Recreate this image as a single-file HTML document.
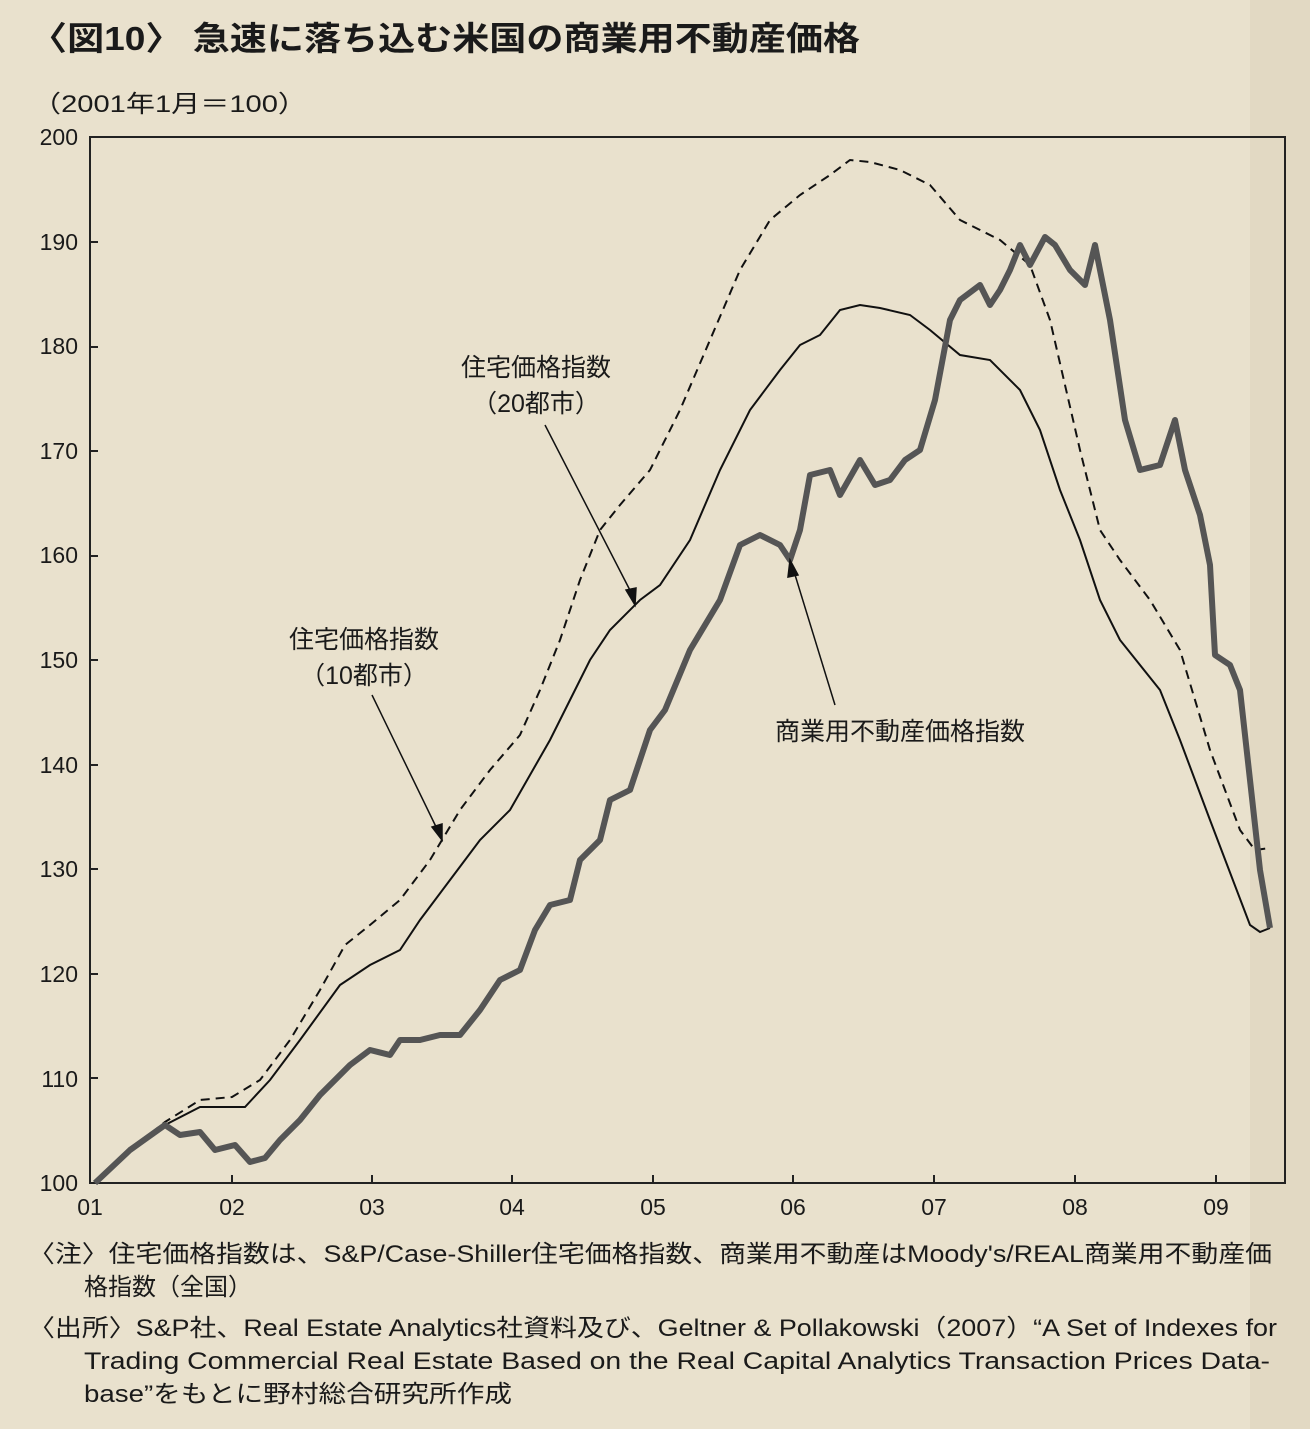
<!DOCTYPE html>
<html><head><meta charset="utf-8"><style>
body{margin:0;background:#e9e1cd;}
svg{display:block}
text{font-family:"Liberation Sans","Noto Sans CJK JP",sans-serif;fill:#1a1a1a}
</style></head><body>
<svg width="1310" height="1429" viewBox="0 0 1310 1429">
<rect width="1310" height="1429" fill="#e9e1cd"/>
<rect x="1250" y="0" width="60" height="1429" fill="#ddd3bd" opacity="0.6"/>
<text x="30" y="50" font-size="33" font-weight="bold" textLength="830" lengthAdjust="spacingAndGlyphs">〈図10〉 急速に落ち込む米国の商業用不動産価格</text>
<text x="32" y="112" font-size="24" textLength="275" lengthAdjust="spacingAndGlyphs">（2001年1月＝100）</text>
<rect x="90" y="137" width="1195" height="1046" fill="none" stroke="#222" stroke-width="2"/>
<g font-size="23" text-anchor="end">
<text x="78" y="145">200</text><text x="78" y="250">190</text><text x="78" y="354">180</text>
<text x="78" y="459">170</text><text x="78" y="563">160</text><text x="78" y="668">150</text>
<text x="78" y="773">140</text><text x="78" y="877">130</text><text x="78" y="982">120</text>
<text x="78" y="1087">110</text><text x="78" y="1191">100</text>
</g>
<g stroke="#222" stroke-width="2">
<line x1="90" y1="242" x2="98" y2="242"/><line x1="90" y1="347" x2="98" y2="347"/><line x1="90" y1="451" x2="98" y2="451"/><line x1="90" y1="556" x2="98" y2="556"/><line x1="90" y1="660" x2="98" y2="660"/><line x1="90" y1="765" x2="98" y2="765"/><line x1="90" y1="869" x2="98" y2="869"/><line x1="90" y1="974" x2="98" y2="974"/><line x1="90" y1="1078" x2="98" y2="1078"/>
<line x1="232" y1="1183" x2="232" y2="1175"/><line x1="372" y1="1183" x2="372" y2="1175"/><line x1="512" y1="1183" x2="512" y2="1175"/><line x1="653" y1="1183" x2="653" y2="1175"/><line x1="793" y1="1183" x2="793" y2="1175"/><line x1="934" y1="1183" x2="934" y2="1175"/><line x1="1075" y1="1183" x2="1075" y2="1175"/><line x1="1216" y1="1183" x2="1216" y2="1175"/>
</g>
<g font-size="23" text-anchor="middle">
<text x="90" y="1215">01</text><text x="232" y="1215">02</text><text x="372" y="1215">03</text><text x="512" y="1215">04</text><text x="653" y="1215">05</text><text x="793" y="1215">06</text><text x="934" y="1215">07</text><text x="1075" y="1215">08</text><text x="1216" y="1215">09</text>
</g>
<polyline fill="none" stroke="#111" stroke-width="2" stroke-dasharray="9,6" points="95,1183 130,1150 165,1122 200,1100 232,1097 260,1080 290,1040 320,990 345,945 370,925 400,900 430,860 460,810 490,770 520,735 540,690 560,640 580,580 600,530 620,505 650,470 680,410 710,340 740,270 770,220 800,195 830,175 850,160 870,162 900,170 930,185 960,220 1000,240 1030,265 1050,320 1080,450 1100,530 1120,560 1150,600 1180,650 1210,750 1240,830 1255,850 1270,848"/>
<polyline fill="none" stroke="#111" stroke-width="2" points="95,1183 130,1150 165,1125 200,1107 245,1107 270,1080 300,1040 340,985 370,965 400,950 420,920 450,880 480,840 510,810 530,775 550,740 570,700 590,660 610,630 640,600 660,585 690,540 720,470 750,410 780,370 800,345 820,335 840,310 860,305 880,308 910,315 930,330 960,355 990,360 1020,390 1040,430 1060,490 1080,540 1100,600 1120,640 1160,690 1180,740 1210,820 1250,925 1260,932 1270,928"/>
<polyline fill="none" stroke="#555" stroke-width="6" stroke-linejoin="round" points="95,1183 130,1150 165,1125 180,1135 200,1132 215,1150 235,1145 250,1162 265,1158 280,1140 300,1120 320,1095 350,1065 370,1050 390,1055 400,1040 420,1040 440,1035 460,1035 480,1010 500,980 520,970 535,930 550,905 570,900 580,860 600,840 610,800 630,790 650,730 665,710 690,650 720,600 740,545 760,535 780,545 790,560 800,530 810,475 830,470 840,495 860,460 875,485 890,480 905,460 920,450 935,400 950,320 960,300 980,285 990,305 1000,290 1010,270 1020,245 1030,265 1045,237 1055,245 1070,270 1085,285 1095,245 1110,320 1125,420 1140,470 1160,465 1175,420 1185,470 1200,515 1210,565 1215,655 1230,665 1240,690 1250,780 1260,870 1270,928"/>
<g font-size="25" text-anchor="middle">
<text x="536" y="376">住宅価格指数</text><text x="536" y="412">（20都市）</text>
<text x="364" y="648">住宅価格指数</text><text x="364" y="684">（10都市）</text>
<text x="900" y="740">商業用不動産価格指数</text>
</g>
<g stroke="#111" stroke-width="1.5" fill="#111">
<line x1="545" y1="425" x2="635" y2="600"/><polygon points="635,605 626,590 636,588"/>
<line x1="372" y1="695" x2="440" y2="835"/><polygon points="442,840 432,827 442,824"/>
<line x1="835" y1="705" x2="792" y2="565"/><polygon points="790,560 798,575 788,577"/>
</g>
<g font-size="24">
<text x="28" y="1262" textLength="1244" lengthAdjust="spacingAndGlyphs">〈注〉住宅価格指数は、S&amp;P/Case-Shiller住宅価格指数、商業用不動産はMoody's/REAL商業用不動産価</text>
<text x="84" y="1295" textLength="168" lengthAdjust="spacingAndGlyphs">格指数（全国）</text>
<text x="28" y="1336" textLength="1249" lengthAdjust="spacingAndGlyphs">〈出所〉S&amp;P社、Real Estate Analytics社資料及び、Geltner &amp; Pollakowski（2007）“A Set of Indexes for</text>
<text x="84" y="1369" textLength="1186" lengthAdjust="spacingAndGlyphs">Trading Commercial Real Estate Based on the Real Capital Analytics Transaction Prices Data-</text>
<text x="84" y="1402" textLength="428" lengthAdjust="spacingAndGlyphs">base”をもとに野村総合研究所作成</text>
</g>
</svg>
</body></html>
